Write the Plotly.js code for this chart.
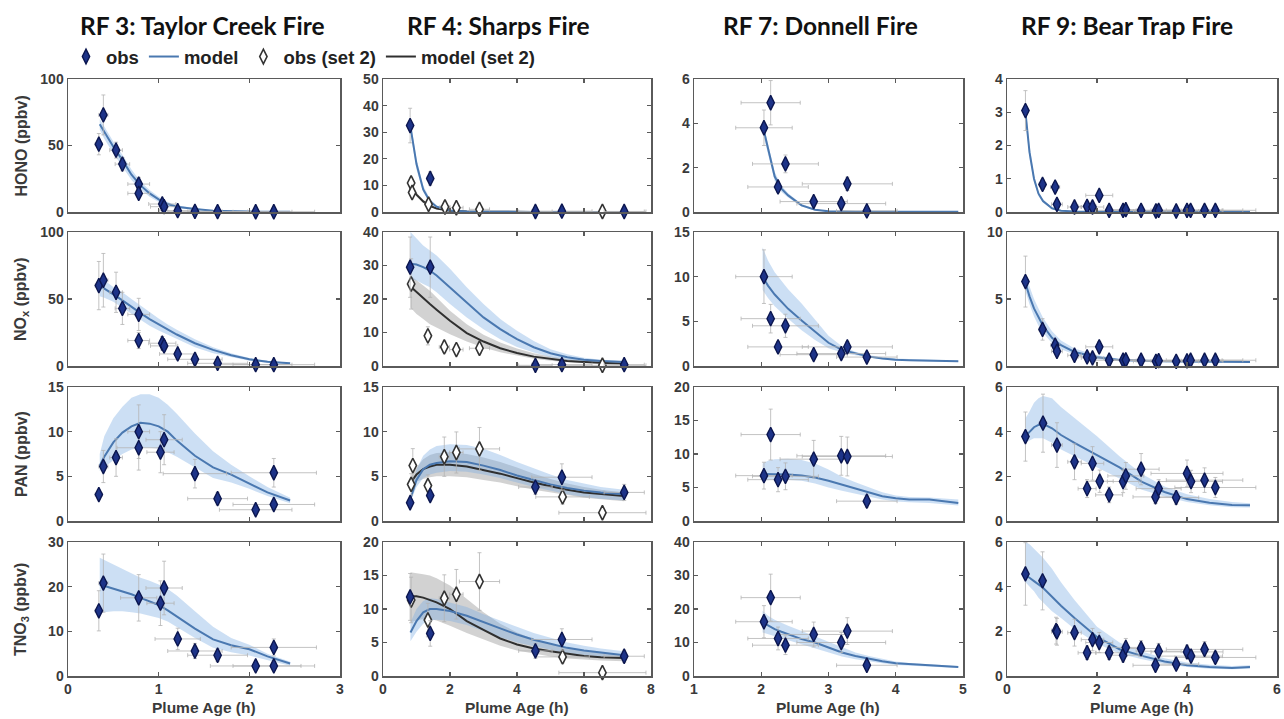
<!DOCTYPE html>
<html><head><meta charset="utf-8">
<script src="https://cdn.plot.ly/plotly-3.0.1.min.js"></script>
<style>html,body{margin:0;padding:0;background:#fff}#chart{width:1284px;height:719px}</style>
</head><body><div id="chart"></div>
<script>
// ---------- RF 3: Taylor Creek Fire ----------
const rf3_x = [0.34,0.39,0.53,0.60,0.78,0.78,1.04,1.06,1.21,1.40,1.65,2.07,2.27];
const rf3_ex = [0.04,0.05,0.07,0.08,0.12,0.12,0.15,0.15,0.2,0.3,0.33,0.4,0.45];
const rf3_hono_y = [51,73,46.5,36,21,14,6,4,1,0.5,0.3,0.2,0.2];
const rf3_hono_ey = [8,15,6,5,5,3,2,1,0.5,0.3,0.2,0.1,0.1];
const rf3_nox_y = [60,64,55,43,38.5,19,17,15,9,5,2,1,1];
const rf3_nox_ey = [18,20,15,12,12,6,5,4,3,2,1,0.5,0.5];
const rf3_pan_x = [0.34,0.39,0.53,0.78,0.78,1.02,1.06,1.40,1.65,2.07,2.27,2.27];
const rf3_pan_ex = [0.04,0.05,0.07,0.24,0.12,0.15,0.2,0.35,0.33,0.4,0.45,0.47];
const rf3_pan_y = [2.96,6.1,7.1,8.2,10.0,7.7,9.1,5.3,2.5,1.26,1.85,5.4];
const rf3_pan_ey = [0.5,1.8,2.1,2.5,3.0,2.3,2.8,1.6,0.7,0.4,0.5,1.6];
const rf3_tno3_x = [0.34,0.39,0.78,1.02,1.06,1.21,1.40,1.65,2.07,2.27,2.27];
const rf3_tno3_ex = [0.04,0.05,0.2,0.15,0.2,0.25,0.3,0.33,0.5,0.45,0.47];
const rf3_tno3_y = [14.6,20.8,17.5,16.3,19.7,8.3,5.6,4.65,2.25,2.25,6.4];
const rf3_tno3_ey = [4.5,6.5,5.2,5,6,2.4,1.7,1.4,0.7,0.7,1.9];

const rf3_t = [0.35,0.4,0.5,0.6,0.7,0.8,0.9,1.0,1.1,1.2,1.4,1.6,1.8,2.0,2.2,2.45];
const rf3_hono_mod = [66,60,49,39,28,20,14,9.5,6,4,2.2,1.0,0.5,0.3,0.2,0.1];
const rf3_hono_hi = [70,64,53,43,32,23,16.5,11.5,7.5,5,2.8,1.4,0.7,0.4,0.3,0.2];
const rf3_hono_lo = [62,55,44,34,24,17,11.5,7.5,4.5,3,1.5,0.6,0.3,0.15,0.1,0.05];
const rf3_nox_mod = [60,58,53.5,49,44,39.5,35,31,27,23.5,17,12,8,5,3.2,2];
const rf3_nox_hi = [66,64,59,55,50,45,40,35.5,31,27,20,14,9.5,6,4,2.5];
const rf3_nox_lo = [52,51,48,44,39,34.5,30,26.5,23,20,14,9.5,6.5,4,2.5,1.5];
const rf3_pan_mod = [6.2,7.2,8.8,9.9,10.6,11.0,10.9,10.6,10.0,9.0,7.3,6.0,5.2,4.2,3.2,2.3];
const rf3_pan_hi = [7.5,9.5,11.5,12.8,13.8,14.2,14.2,13.8,13.0,12.0,9.8,7.8,6.3,5.0,3.8,2.6];
const rf3_pan_lo = [5.6,6.0,6.8,7.5,8.0,8.2,8.2,8.1,7.7,7.2,6.0,4.8,4.3,3.6,2.8,2.0];
const rf3_tno3_mod = [20.5,20.2,19.5,19.0,18.3,17.5,16.7,15.9,14.7,13.3,10.6,8.2,6.9,6.0,4.4,2.8];
const rf3_tno3_hi = [26.5,26,25,24,23,22,21.3,20.5,19.5,18,14.5,11,8.5,7,5,3.2];
const rf3_tno3_lo = [14,14.3,14.5,14.5,14.3,14,13.5,13,12.2,11,8.5,6.3,5.3,4.6,3.5,2.3];

// ---------- RF 4: Sharps Fire ----------
const rf4_x = [0.81,1.41,4.55,5.34,7.2];
const rf4_ex = [0.05,0.1,0.5,0.9,0.6];
const rf4_hono_y = [32.5,12.6,0.2,0.3,0.2];
const rf4_hono_ey = [6.5,2.5,0.1,0.1,0.1];
const rf4_nox_y = [29.5,29.5,0.2,0.4,0.4];
const rf4_nox_ey = [9,9,0.1,0.1,0.1];
const rf4_pan_y = [2.04,2.85,3.8,4.9,3.2];
const rf4_pan_ey = [0.4,0.5,0.8,1.5,0.9];
const rf4_tno3_y = [11.8,6.35,3.75,5.45,2.95];
const rf4_tno3_ey = [3.5,1.9,1.1,1.6,0.9];

const rf4_hono_x2 = [0.84,0.87,1.36,1.85,2.19,2.88,6.55];
const rf4_hono_ex2 = [0.05,0.05,0.1,0.15,0.2,0.3,1.3];
const rf4_hono_y2 = [10.9,7.3,2.9,1.9,1.6,1.0,0.2];
const rf4_hono_ey2 = [2,1.5,0.6,0.4,0.3,0.2,0.05];
const rf4_nox_x2 = [0.84,1.34,1.83,2.19,2.88,6.55];
const rf4_nox_ex2 = [0.05,0.1,0.15,0.2,0.3,1.3];
const rf4_nox_y2 = [24.5,9,5.7,4.9,5.3,0.2];
const rf4_nox_ey2 = [7.5,2.7,1.7,1.5,1.6,0.1];
const rf4_pan_x2 = [0.84,0.89,1.34,1.83,2.19,2.88,5.36,6.55];
const rf4_pan_ex2 = [0.05,0.05,0.1,0.15,0.2,0.6,0.8,1.3];
const rf4_pan_y2 = [4.1,6.2,3.96,7.2,7.67,8.07,2.7,0.93];
const rf4_pan_ey2 = [1.2,1.9,1.2,2.2,2.3,2.4,0.8,0.3];
const rf4_tno3_x2 = [0.84,1.34,1.83,2.19,2.88,5.36,6.55];
const rf4_tno3_ex2 = [0.05,0.1,0.15,0.2,0.6,0.8,1.3];
const rf4_tno3_y2 = [11.35,8.35,11.6,12.2,14.1,2.85,0.5];
const rf4_tno3_ey2 = [3.4,2.5,3.5,3.7,4.3,0.9,0.15];

const rf4_t = [0.82,1.0,1.2,1.4,1.6,2.0,2.5,3.0,3.5,4.0,4.5,5.0,5.5,6.0,6.5,7.2];
const rf4_hono_mod = [32,18,8.5,4,2,0.6,0.2,0.1,0.05,0.03,0.02,0.02,0.02,0.02,0.02,0.02];
const rf4_hono_hi = [34,20,10,5,2.5,0.9,0.3,0.15,0.1,0.05,0.04,0.04,0.04,0.04,0.04,0.04];
const rf4_hono_lo = [30,16,7.5,3.3,1.6,0.4,0.1,0.05,0.02,0.01,0.01,0.01,0.01,0.01,0.01,0.01];
const rf4_hono_mod2 = [9.5,6.5,4,2.3,1.3,0.5,0.2,0.1,0.05,0.03,0.02,0.02,0.02,0.02,0.02,0.02];
const rf4_hono_hi2 = [10.5,7.3,4.6,2.7,1.6,0.6,0.25,0.12,0.07,0.04,0.03,0.03,0.03,0.03,0.03,0.03];
const rf4_hono_lo2 = [8.5,5.8,3.4,2,1.1,0.4,0.15,0.08,0.03,0.02,0.01,0.01,0.01,0.01,0.01,0.01];
const rf4_nox_mod = [30.5,30.3,29.5,28.5,27,23.5,19,14.5,11,8,5.6,3.8,2.6,1.9,1.5,1.2];
const rf4_nox_hi = [40,38,36,34.5,33,29,23.5,18.5,14,10.5,7.5,5,3.5,2.5,1.9,1.5];
const rf4_nox_lo = [26,25.5,24.5,23.5,22,18.5,14.5,11,8,5.7,4,2.7,1.8,1.3,1.1,0.9];
const rf4_nox_mod2 = [23.7,22,20.3,18.5,16.8,13.5,9.8,7.3,5.3,3.9,2.8,2.1,1.5,1.2,0.9,0.7];
const rf4_nox_hi2 = [27,25.5,24,22.5,20.5,16.5,12.5,9.3,7,5.2,3.8,2.8,2.1,1.6,1.3,1.0];
const rf4_nox_lo2 = [17.5,15.5,14,12.5,11.5,9.5,7.3,5.5,4.1,3.1,2.2,1.6,1.1,0.9,0.7,0.5];
const rf4_pan_mod = [2.5,4.6,5.8,6.3,6.5,6.7,6.6,6.2,5.7,5.1,4.6,4.1,3.7,3.4,3.2,3.0];
const rf4_pan_hi = [2.8,5.8,7.3,8.0,8.4,8.6,8.5,8.1,7.4,6.6,5.9,5.2,4.6,4.2,3.8,3.5];
const rf4_pan_lo = [2.2,3.8,4.8,5.2,5.4,5.6,5.5,5.2,4.8,4.3,3.8,3.4,3.0,2.7,2.5,2.3];
const rf4_pan_mod2 = [4.3,5.2,5.8,6.1,6.3,6.3,6.1,5.7,5.3,4.8,4.3,3.9,3.5,3.2,3.0,2.8];
const rf4_pan_hi2 = [4.8,6.0,6.9,7.4,7.6,7.7,7.5,7.1,6.6,6.0,5.3,4.7,4.2,3.8,3.5,3.2];
const rf4_pan_lo2 = [3.8,4.4,4.7,4.9,5.0,5.0,4.9,4.6,4.3,3.9,3.5,3.2,2.9,2.6,2.4,2.2];
const rf4_tno3_mod = [6.5,8.2,9.5,10.0,10.0,9.7,9.0,8.0,7.1,6.2,5.4,4.8,4.2,3.8,3.5,3.1];
const rf4_tno3_hi = [8.0,10.0,11.2,11.6,11.5,11.0,10.3,9.2,8.3,7.3,6.4,5.7,5.0,4.5,4.1,3.7];
const rf4_tno3_lo = [5.2,6.6,7.8,8.3,8.4,8.2,7.6,6.7,5.8,5.0,4.4,3.9,3.4,3.1,2.9,2.6];
const rf4_tno3_mod2 = [11.9,11.9,11.7,11.4,11.0,10.0,8.2,6.9,5.6,4.7,4.1,3.7,3.3,3.0,2.8,2.7];
const rf4_tno3_hi2 = [15.5,15.4,15.2,15.0,14.6,13.5,11.5,9.5,7.8,6.5,5.5,4.8,4.2,3.8,3.4,3.2];
const rf4_tno3_lo2 = [8.0,8.3,8.5,8.5,8.3,7.5,6.4,5.4,4.5,3.8,3.3,2.9,2.6,2.4,2.3,2.2];

// ---------- RF 7: Donnell Fire ----------
const rf7_x = [2.04,2.14,2.25,2.36,2.78,3.19,3.28,3.57];
const rf7_ex = [0.42,0.44,0.45,0.49,0.5,0.66,0.67,0.45];
const rf7_hono_y = [3.8,4.93,1.13,2.17,0.47,0.38,1.27,0.05];
const rf7_hono_ey = [0.8,1.0,0.25,0.4,0.1,0.1,0.3,0.02];
const rf7_nox_y = [10.0,5.3,2.14,4.5,1.27,1.39,2.14,1.0];
const rf7_nox_ey = [3,1.6,0.6,1.3,0.4,0.4,0.6,0.3];
const rf7_pan_y = [6.77,12.9,6.17,6.67,9.23,9.73,9.63,2.96];
const rf7_pan_ey = [2,3.8,1.8,2,2.8,2.9,2.9,0.9];
const rf7_tno3_y = [16.2,23.4,11.2,9.2,12.4,10.0,13.4,3.2];
const rf7_tno3_ey = [4.8,7,3.4,2.8,3.7,3,4,1];

const rf7_t = [2.02,2.1,2.2,2.3,2.4,2.6,2.8,3.0,3.2,3.4,3.6,3.8,4.0,4.2,4.5,4.93];
const rf7_hono_mod = [3.9,2.9,1.6,1.05,0.75,0.3,0.1,0.03,0.01,0.01,0.01,0.01,0.01,0.01,0.01,0.01];
const rf7_hono_hi = [4.1,3.1,1.8,1.2,0.85,0.36,0.13,0.05,0.02,0.02,0.02,0.02,0.02,0.02,0.02,0.02];
const rf7_hono_lo = [3.6,2.6,1.4,0.9,0.65,0.25,0.07,0.02,0,0,0,0,0,0,0,0];
const rf7_nox_mod = [10.0,9.0,8.0,7.2,6.4,5.1,3.8,2.6,1.8,1.4,1.05,0.85,0.7,0.65,0.58,0.53];
const rf7_nox_hi = [13.3,11.8,10.5,9.5,8.6,7.0,5.2,3.4,2.2,1.6,1.2,1.0,0.85,0.78,0.7,0.62];
const rf7_nox_lo = [8.5,7.6,6.7,6.0,5.3,4.0,2.9,2.0,1.5,1.2,0.95,0.75,0.6,0.55,0.5,0.45];
const rf7_pan_mod = [7.0,7.0,7.0,7.0,6.95,6.8,6.5,6.0,5.4,4.8,4.2,3.7,3.4,3.2,3.2,2.7];
const rf7_pan_hi = [8.6,9.0,9.2,9.3,9.3,9.1,8.6,7.7,6.6,5.8,5.0,4.3,3.8,3.6,3.5,3.2];
const rf7_pan_lo = [6.0,6.1,6.2,6.2,6.2,6.0,5.6,5.0,4.5,4.0,3.6,3.2,2.9,2.8,2.7,2.3];
const rf7_tno3_mod = [16.0,15.0,14.0,13.2,12.4,11.0,10.0,8.4,7.0,6.0,5.1,4.4,3.8,3.5,3.2,2.7];
const rf7_tno3_hi = [19.5,18.0,16.8,15.8,15.0,13.4,11.8,10.0,8.4,7.0,6.0,5.1,4.3,3.9,3.5,3.0];
const rf7_tno3_lo = [13.0,12.5,11.9,11.3,10.7,9.5,8.4,7.0,5.8,5.0,4.3,3.8,3.3,3.1,2.9,2.4];

// ---------- RF 9: Bear Trap Fire ----------
const rf9_x = [0.41,0.79,1.07,1.11,1.50,1.78,1.90,2.05,2.27,2.58,2.64,2.98,3.31,3.37,3.76,4.0,4.08,4.39,4.63];
const rf9_ex = [0.05,0.08,0.1,0.12,0.15,0.2,0.25,0.3,0.3,0.35,0.4,0.4,0.5,0.5,0.5,0.8,0.7,0.85,0.9];
const rf9_hono_y = [3.05,0.83,0.75,0.23,0.15,0.17,0.15,0.5,0.05,0.05,0.07,0.05,0.03,0.05,0.03,0.05,0.05,0.05,0.05];
const rf9_hono_ey = [0.6,0.15,0.13,0.05,0.03,0.03,0.03,0.1,0.01,0.01,0.01,0.01,0.01,0.01,0.01,0.01,0.01,0.01,0.01];
const rf9_nox_y = [6.3,2.73,1.55,1.1,0.8,0.68,0.6,1.43,0.43,0.43,0.45,0.43,0.35,0.4,0.35,0.38,0.43,0.43,0.43];
const rf9_nox_ey = [1.9,0.8,0.45,0.3,0.25,0.2,0.2,0.4,0.13,0.13,0.13,0.13,0.1,0.12,0.1,0.11,0.13,0.13,0.13];
const rf9_tno3_x = [0.41,0.79,1.09,1.11,1.50,1.78,1.90,2.05,2.27,2.58,2.64,2.98,3.30,3.37,3.76,4.0,4.09,4.39,4.63];
const rf9_tno3_y = [4.57,4.26,2.03,1.98,1.94,1.04,1.63,1.5,1.04,0.93,1.28,1.23,0.48,1.11,0.53,1.08,0.89,1.19,0.83];
const rf9_tno3_ey = [1.4,1.3,0.6,0.6,0.6,0.3,0.5,0.45,0.3,0.3,0.4,0.35,0.15,0.35,0.15,0.3,0.25,0.35,0.25];
const rf9_pan_x = [0.41,0.80,1.11,1.50,1.78,1.90,2.06,2.27,2.58,2.64,2.98,3.30,3.37,3.76,4.0,4.09,4.39,4.63];
const rf9_pan_ex = [0.05,0.08,0.12,0.15,0.2,0.25,0.3,0.3,0.35,0.4,0.4,0.5,0.5,0.5,0.8,0.7,0.85,0.9];
const rf9_pan_y = [3.78,4.38,3.4,2.65,1.45,2.58,1.78,1.17,1.77,2.02,2.32,1.08,1.45,1.05,2.13,1.77,1.83,1.5];
const rf9_pan_ey = [1.1,1.3,1.0,0.8,0.4,0.75,0.5,0.35,0.5,0.6,0.7,0.3,0.4,0.3,0.6,0.5,0.55,0.45];

const rf9_t = [0.41,0.5,0.6,0.7,0.8,1.0,1.2,1.5,2.0,2.5,3.0,3.5,4.0,4.5,5.0,5.4];
const rf9_hono_mod = [3.0,1.8,1.0,0.55,0.33,0.11,0.04,0.015,0.01,0.01,0.01,0.01,0.01,0.01,0.01,0.01];
const rf9_hono_hi = [3.2,2.0,1.1,0.62,0.38,0.13,0.05,0.02,0.02,0.02,0.02,0.02,0.02,0.02,0.02,0.02];
const rf9_hono_lo = [2.8,1.6,0.9,0.48,0.28,0.09,0.03,0.01,0,0,0,0,0,0,0,0];
const rf9_nox_mod = [6.2,5.2,4.3,3.6,3.0,2.1,1.55,1.05,0.65,0.45,0.38,0.35,0.33,0.32,0.31,0.3];
const rf9_nox_hi = [6.8,5.9,5.0,4.3,3.6,2.6,1.9,1.3,0.8,0.55,0.45,0.42,0.4,0.38,0.37,0.36];
const rf9_nox_lo = [5.6,4.6,3.7,3.0,2.5,1.7,1.25,0.85,0.5,0.36,0.3,0.28,0.26,0.25,0.25,0.24];
const rf9_pan_mod = [3.8,4.0,4.2,4.3,4.35,4.15,3.85,3.5,2.95,2.4,1.75,1.3,0.98,0.82,0.72,0.7];
const rf9_pan_hi = [4.6,4.9,5.3,5.5,5.6,5.5,5.1,4.6,3.8,2.9,2.1,1.55,1.2,0.98,0.85,0.8];
const rf9_pan_lo = [3.5,3.6,3.7,3.7,3.7,3.5,3.2,2.9,2.4,1.9,1.4,1.1,0.85,0.7,0.62,0.6];
const rf9_tno3_mod = [4.5,4.4,4.25,4.1,3.95,3.55,3.15,2.6,1.75,1.2,0.9,0.65,0.48,0.4,0.36,0.4];
const rf9_tno3_hi = [6.0,5.9,5.7,5.5,5.3,4.8,4.2,3.4,2.2,1.5,1.1,0.8,0.6,0.5,0.45,0.48];
const rf9_tno3_lo = [4.2,4.0,3.8,3.5,3.3,2.9,2.6,2.1,1.45,1.0,0.75,0.55,0.4,0.32,0.3,0.32];

// ---------- labels ----------
const colTitles = ['RF 3: Taylor Creek Fire','RF 4: Sharps Fire','RF 7: Donnell Fire','RF 9: Bear Trap Fire'];
const rowTitles = ['HONO (ppbv)','NO<sub>x</sub> (ppbv)','PAN (ppbv)','TNO<sub>3</sub> (ppbv)'];
const xTitle = 'Plume Age (h)';
const legendNames = ['obs','model','obs (set 2)','model (set 2)'];

// ---------- layout geometry (pixels) ----------
const W = 1284, H = 719;
const colPx = [[68,340],[383,651],[694,963],[1007,1277]];
const rowPx = [[79,212],[232,366],[387,521],[542,676]];
const titleCx = [202,498,820,1127];
const xRanges = [[0,3],[0,8],[1,5],[0,6]];
const xDticks = [1,2,1,2];
const yRanges = [
  [[0,100],[0,50],[0,6],[0,4]],
  [[0,100],[0,40],[0,15],[0,10]],
  [[0,15],[0,15],[0,20],[0,6]],
  [[0,30],[0,20],[0,40],[0,6]]
];
const yDticks = [[50,10,2,1],[50,10,5,5],[5,5,5,2],[10,5,10,2]];

const panels = [
 [ {o:[rf3_x,rf3_hono_y,rf3_ex,rf3_hono_ey], t:rf3_t, m:rf3_hono_mod, lo:rf3_hono_lo, hi:rf3_hono_hi},
   {o:[rf4_x,rf4_hono_y,rf4_ex,rf4_hono_ey], t:rf4_t, m:rf4_hono_mod, lo:rf4_hono_lo, hi:rf4_hono_hi,
    o2:[rf4_hono_x2,rf4_hono_y2,rf4_hono_ex2,rf4_hono_ey2], m2:rf4_hono_mod2, lo2:rf4_hono_lo2, hi2:rf4_hono_hi2},
   {o:[rf7_x,rf7_hono_y,rf7_ex,rf7_hono_ey], t:rf7_t, m:rf7_hono_mod, lo:rf7_hono_lo, hi:rf7_hono_hi},
   {o:[rf9_x,rf9_hono_y,rf9_ex,rf9_hono_ey], t:rf9_t, m:rf9_hono_mod, lo:rf9_hono_lo, hi:rf9_hono_hi} ],
 [ {o:[rf3_x,rf3_nox_y,rf3_ex,rf3_nox_ey], t:rf3_t, m:rf3_nox_mod, lo:rf3_nox_lo, hi:rf3_nox_hi},
   {o:[rf4_x,rf4_nox_y,rf4_ex,rf4_nox_ey], t:rf4_t, m:rf4_nox_mod, lo:rf4_nox_lo, hi:rf4_nox_hi,
    o2:[rf4_nox_x2,rf4_nox_y2,rf4_nox_ex2,rf4_nox_ey2], m2:rf4_nox_mod2, lo2:rf4_nox_lo2, hi2:rf4_nox_hi2},
   {o:[rf7_x,rf7_nox_y,rf7_ex,rf7_nox_ey], t:rf7_t, m:rf7_nox_mod, lo:rf7_nox_lo, hi:rf7_nox_hi},
   {o:[rf9_x,rf9_nox_y,rf9_ex,rf9_nox_ey], t:rf9_t, m:rf9_nox_mod, lo:rf9_nox_lo, hi:rf9_nox_hi} ],
 [ {o:[rf3_pan_x,rf3_pan_y,rf3_pan_ex,rf3_pan_ey], t:rf3_t, m:rf3_pan_mod, lo:rf3_pan_lo, hi:rf3_pan_hi},
   {o:[rf4_x,rf4_pan_y,rf4_ex,rf4_pan_ey], t:rf4_t, m:rf4_pan_mod, lo:rf4_pan_lo, hi:rf4_pan_hi,
    o2:[rf4_pan_x2,rf4_pan_y2,rf4_pan_ex2,rf4_pan_ey2], m2:rf4_pan_mod2, lo2:rf4_pan_lo2, hi2:rf4_pan_hi2},
   {o:[rf7_x,rf7_pan_y,rf7_ex,rf7_pan_ey], t:rf7_t, m:rf7_pan_mod, lo:rf7_pan_lo, hi:rf7_pan_hi},
   {o:[rf9_pan_x,rf9_pan_y,rf9_pan_ex,rf9_pan_ey], t:rf9_t, m:rf9_pan_mod, lo:rf9_pan_lo, hi:rf9_pan_hi} ],
 [ {o:[rf3_tno3_x,rf3_tno3_y,rf3_tno3_ex,rf3_tno3_ey], t:rf3_t, m:rf3_tno3_mod, lo:rf3_tno3_lo, hi:rf3_tno3_hi},
   {o:[rf4_x,rf4_tno3_y,rf4_ex,rf4_tno3_ey], t:rf4_t, m:rf4_tno3_mod, lo:rf4_tno3_lo, hi:rf4_tno3_hi,
    o2:[rf4_tno3_x2,rf4_tno3_y2,rf4_tno3_ex2,rf4_tno3_ey2], m2:rf4_tno3_mod2, lo2:rf4_tno3_lo2, hi2:rf4_tno3_hi2},
   {o:[rf7_x,rf7_tno3_y,rf7_ex,rf7_tno3_ey], t:rf7_t, m:rf7_tno3_mod, lo:rf7_tno3_lo, hi:rf7_tno3_hi},
   {o:[rf9_tno3_x,rf9_tno3_y,rf9_ex,rf9_tno3_ey], t:rf9_t, m:rf9_tno3_mod, lo:rf9_tno3_lo, hi:rf9_tno3_hi} ]
];

// ---------- styles ----------
const FONT = 'Liberation Sans, Arial, sans-serif';
const BLUE_FILL = 'rgba(120,170,225,0.38)';
const GRAY_FILL = 'rgba(115,115,115,0.32)';
const BLUE_LINE = '#4a78b0';
const DARK_LINE = '#2f2f2f';
const OBS_FILL = '#1d3388';
const OBS_EDGE = '#0b164f';
const ERR = 'rgba(180,180,180,0.8)';

function bandTrace(t, lo, hi, xa, ya, col) {
  return {x: t.concat(t.slice().reverse()), y: hi.concat(lo.slice().reverse()),
    xaxis: xa, yaxis: ya, mode: 'lines', fill: 'toself', fillcolor: col,
    line: {width: 0}, hoverinfo: 'skip', showlegend: false};
}
function lineTrace(t, m, xa, ya, col, name, show, rank) {
  return {x: t, y: m, xaxis: xa, yaxis: ya, mode: 'lines', name: name,
    line: {color: col, width: 2}, hoverinfo: 'skip', showlegend: show, legendrank: rank};
}
function obsTrace(o, xa, ya, open, name, show, rank) {
  return {x: o[0], y: o[1], xaxis: xa, yaxis: ya, mode: 'markers', name: name,
    cliponaxis: false, hoverinfo: 'skip', showlegend: show, legendrank: rank,
    error_x: {type: 'data', array: o[2], visible: true, color: ERR, thickness: 1, width: 2},
    error_y: {type: 'data', array: o[3], visible: true, color: ERR, thickness: 1, width: 2},
    marker: open ? {symbol: 'diamond-tall', size: 10.5, color: '#ffffff', line: {color: '#333333', width: 1.6}}
                 : {symbol: 'diamond-tall', size: 10.5, color: OBS_FILL, line: {color: OBS_EDGE, width: 1.4}}};
}

const traces = [];
const layout = {
  width: W, height: H, margin: {l: 0, r: 0, t: 0, b: 0},
  paper_bgcolor: '#ffffff', plot_bgcolor: '#ffffff',
  font: {family: FONT, size: 13, color: '#333', weight: 700},
  showlegend: true,
  legend: {orientation: 'h', x: 66 / W, xanchor: 'left', y: 1 - 57 / H, yanchor: 'middle',
    font: {family: FONT, size: 18.5, color: '#222', weight: 700}, bgcolor: 'rgba(0,0,0,0)',
    itemwidth: 30, tracegroupgap: 0, traceorder: 'normal'},
  annotations: []
};

for (let r = 0; r < 4; r++) {
  for (let c = 0; c < 4; c++) {
    const k = r * 4 + c + 1;
    const xa = 'x' + (k === 1 ? '' : k), ya = 'y' + (k === 1 ? '' : k);
    const p = panels[r][c];
    const first = (r === 0 && c === 0), firstSet2 = (r === 0 && c === 1);
    if (p.o2) traces.push(bandTrace(p.t, p.lo2, p.hi2, xa, ya, GRAY_FILL));
    traces.push(bandTrace(p.t, p.lo, p.hi, xa, ya, BLUE_FILL));
    if (p.o2) traces.push(lineTrace(p.t, p.m2, xa, ya, DARK_LINE, legendNames[3], firstSet2, 4));
    traces.push(lineTrace(p.t, p.m, xa, ya, BLUE_LINE, legendNames[1], first, 2));
    if (p.o2) traces.push(obsTrace(p.o2, xa, ya, true, legendNames[2], firstSet2, 3));
    traces.push(obsTrace(p.o, xa, ya, false, legendNames[0], first, 1));

    const common = {showgrid: false, zeroline: false, showline: true, linecolor: '#5a5a5a', linewidth: 1.5,
      mirror: 'ticks', ticks: 'inside', ticklen: 4, tickwidth: 1.2, tickcolor: '#5a5a5a',
      tickfont: {family: FONT, size: 14, color: '#3a3a3a', weight: 700}, fixedrange: true};
    layout['xaxis' + (k === 1 ? '' : k)] = Object.assign({}, common, {
      domain: [colPx[c][0] / W, colPx[c][1] / W], anchor: ya, range: xRanges[c],
      tick0: 0, dtick: xDticks[c], showticklabels: r === 3});
    layout['yaxis' + (k === 1 ? '' : k)] = Object.assign({}, common, {
      domain: [1 - rowPx[r][1] / H, 1 - rowPx[r][0] / H], anchor: xa, range: yRanges[r][c],
      tick0: 0, dtick: yDticks[r][c]});
  }
}

for (let c = 0; c < 4; c++) {
  layout.annotations.push({text: colTitles[c], xref: 'paper', yref: 'paper', x: titleCx[c] / W, y: 1 - 25 / H,
    xanchor: 'center', yanchor: 'middle', showarrow: false,
    font: {family: 'Lato, Carlito, sans-serif', size: 24.5, color: '#111', weight: 700}});
  layout.annotations.push({text: xTitle, xref: 'paper', yref: 'paper', x: (colPx[c][0] + colPx[c][1]) / 2 / W,
    y: 1 - 707 / H, xanchor: 'center', yanchor: 'middle', showarrow: false,
    font: {family: FONT, size: 15.5, color: '#3a3a3a', weight: 700}});
}
for (let r = 0; r < 4; r++) {
  layout.annotations.push({text: rowTitles[r], xref: 'paper', yref: 'paper', x: 21 / W,
    y: 1 - (rowPx[r][0] + rowPx[r][1]) / 2 / H, xanchor: 'center', yanchor: 'middle', textangle: -90,
    showarrow: false, font: {family: FONT, size: 16, color: '#3a3a3a', weight: 700}});
}

Plotly.newPlot('chart', traces, layout, {displayModeBar: false, staticPlot: true});
</script></body></html>
